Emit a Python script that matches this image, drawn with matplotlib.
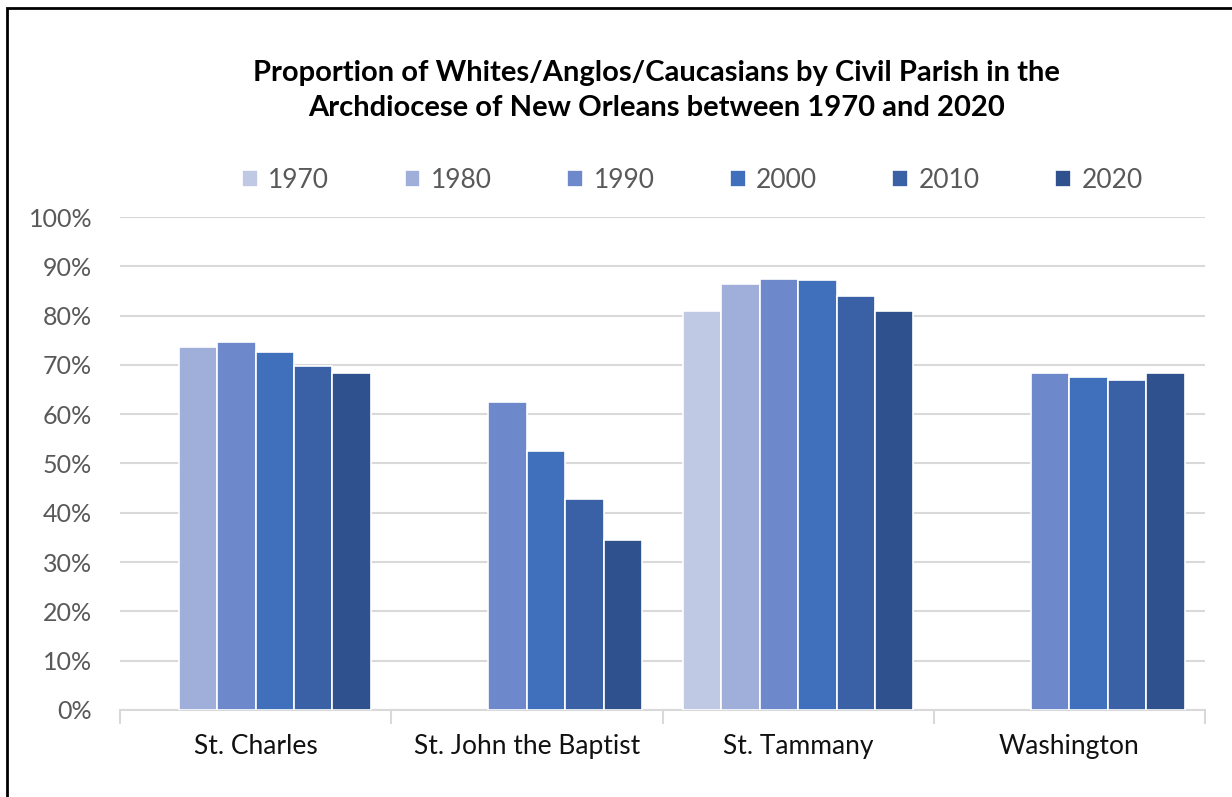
import numpy as np
import matplotlib.pyplot as plt
from matplotlib.patches import Rectangle

plt.rcParams['font.family'] = ['Lato', 'DejaVu Sans']

parishes = ["St. Charles", "St. John the Baptist", "St. Tammany", "Washington"]
years = ["1970", "1980", "1990", "2000", "2010", "2020"]

# share of white population per parish, None where no figure exists
share_1970 = [None, None, 0.809, None]
share_1980 = [0.736, None, 0.864, None]
share_1990 = [0.746, 0.624, 0.874, 0.684]
share_2000 = [0.726, 0.526, 0.873, 0.675]
share_2010 = [0.697, 0.427, 0.840, 0.669]
share_2020 = [0.684, 0.344, 0.809, 0.683]
series = [share_1970, share_1980, share_1990, share_2000, share_2010, share_2020]

colors = ["#C0C9E4", "#A0AFD9", "#6E89CB", "#4070BB", "#3A60A6", "#2F528F"]

fig = plt.figure(figsize=(12.32, 7.97), dpi=100)
ax = fig.add_axes([0.0974, 0.1092, 0.8807, 0.6185])

x = np.arange(len(parishes))
group = 0.85
w = group / len(years)
for j, (vals, col) in enumerate(zip(series, colors)):
    xs = [x[i] + (j - 2.5) * w for i, v in enumerate(vals) if v is not None]
    hs = [v for v in vals if v is not None]
    ax.bar(xs, hs, width=w, color=col, edgecolor="white", linewidth=1.2,
           label=years[j], zorder=3)

ax.set_xlim(-0.5, len(parishes) - 0.5)
ax.set_ylim(0, 1.0)
ax.set_yticks(np.arange(0, 1.01, 0.1))
ax.set_yticklabels([f"{int(round(t * 100))}%" for t in np.arange(0, 1.01, 0.1)])
ax.grid(axis="y", color="#D9D9D9", linewidth=1.5, zorder=0)
for s in ["top", "right", "left"]:
    ax.spines[s].set_visible(False)
ax.spines["bottom"].set_color("#D9D9D9")
ax.spines["bottom"].set_linewidth(1.5)
ax.tick_params(axis="y", length=0, labelsize=18, labelcolor="#595959", pad=20)

# category labels centred, ticks at category boundaries
ax.set_xticks(x)
ax.set_xticklabels(parishes, fontsize=19, color="#111111")
ax.tick_params(axis="x", which="major", length=0, pad=17)
ax.set_xticks(np.arange(-0.5, len(parishes)), minor=True)
ax.tick_params(axis="x", which="minor", length=10, width=1.5, color="#D9D9D9")

fig.text(0.533, 0.909, "Proportion of Whites/Anglos/Caucasians by Civil Parish in the",
         ha="center", va="center", fontsize=21, fontweight="bold", color="black")
fig.text(0.533, 0.865, "Archdiocese of New Orleans between 1970 and 2020",
         ha="center", va="center", fontsize=21, fontweight="bold", color="black")

leg = fig.legend(loc="center", bbox_to_anchor=(0.562, 0.774), ncol=6, frameon=False,
                 fontsize=19, handlelength=0.6, handleheight=0.6, handletextpad=0.4,
                 columnspacing=2.85)
for t in leg.get_texts():
    t.set_color("#595959")

# outer frame
fig.patches.append(Rectangle((7 / 1232, -0.05), 1.2, (797 - 8) / 797 + 0.05,
                             transform=fig.transFigure, fill=False,
                             edgecolor="black", linewidth=2))

fig.savefig("out.png", dpi=100)
